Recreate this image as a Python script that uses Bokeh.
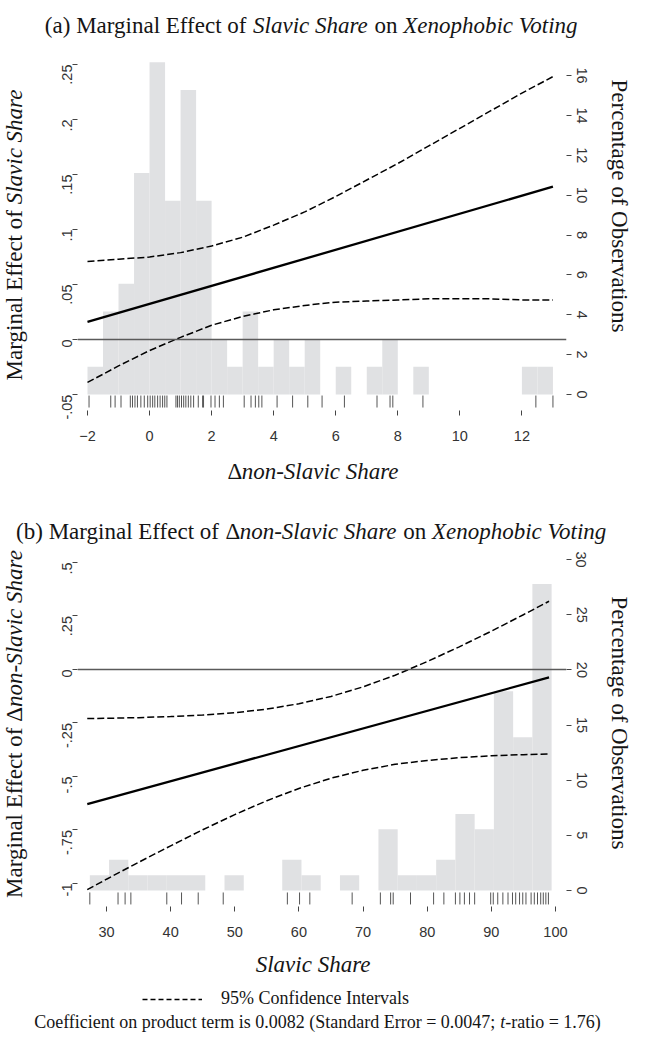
import math
from bokeh.plotting import figure
from bokeh.models import (Range1d, LinearAxis, FixedTicker, CustomJSTickFormatter,
                          Span, Legend, LegendItem, ColumnDataSource, Div)
from bokeh.core.properties import value
from bokeh.layouts import column, row
from bokeh.embed import file_html
from bokeh.resources import INLINE

# ---------------- panel (a): marginal effect of Slavic Share ----------------
a_bin_edges = [-2.0, -1.5, -1.0, -0.5, 0.0, 0.5, 1.0, 1.5, 2.0, 2.5, 3.0, 3.5, 4.0,
               4.5, 5.0, 5.5, 6.0, 6.5, 7.0, 7.5, 8.0, 8.5, 9.0, 9.5, 10.0, 10.5,
               11.0, 11.5, 12.0, 12.5, 13.0]
a_pct = [1.39, 4.17, 5.56, 11.11, 16.67, 9.72, 15.28, 9.72,
         2.78, 1.39, 4.17, 1.39, 2.78, 1.39, 2.78, 0.0,
         1.39, 0.0, 1.39, 2.78, 0.0, 1.39, 0.0, 0.0,
         0.0, 0.0, 0.0, 0.0, 1.39, 1.39]
a_rug = [-1.95, -1.25, -1.11, -0.92, -0.62, -0.55, -0.47, -0.39, -0.28, -0.17,
         -0.06, 0.02, 0.10, 0.17, 0.26, 0.34, 0.42, 0.49, 0.56, 0.85, 0.90,
         0.96, 1.03, 1.10, 1.17, 1.25, 1.33, 1.42, 1.57, 1.71, 1.74, 1.98,
         2.11, 2.25, 2.38, 3.05, 3.27, 3.41, 3.52, 3.62, 4.11, 4.61, 5.10,
         5.56, 6.28, 7.33, 7.75, 7.84, 8.81, 12.45, 13.0]
a_x = [-2, -1, 0, 1, 2, 3, 4, 5, 6, 7, 8, 9, 10, 11, 12, 13]
a_upper = [0.071, 0.073, 0.075, 0.079, 0.085, 0.093, 0.104, 0.116, 0.130,
           0.145, 0.160, 0.176, 0.192, 0.208, 0.224, 0.239]
a_lower = [-0.039, -0.024, -0.010, 0.002, 0.013, 0.021, 0.027, 0.031, 0.034,
           0.035, 0.036, 0.037, 0.037, 0.037, 0.036, 0.036]
a_eff_x = [-2, 13]
a_eff = [0.016, 0.139]
a_xticks = [-2, 0, 2, 4, 6, 8, 10, 12]
a_yticks = [-0.05, 0.0, 0.05, 0.10, 0.15, 0.20, 0.25]
a_pticks = [0, 2, 4, 6, 8, 10, 12, 14, 16]

# ---------------- panel (b): marginal effect of delta non-Slavic Share ----------------
b_bin_edges = [27.4, 30.4, 33.4, 36.4, 39.4, 42.4, 45.4, 48.4, 51.4, 54.4, 57.4,
               60.4, 63.4, 66.4, 69.4, 72.4, 75.4, 78.4, 81.4, 84.4, 87.4, 90.4,
               93.4, 96.4, 99.4]
b_pct = [1.39, 2.78, 1.39, 1.39, 1.39, 1.39, 0.0, 1.39, 0.0, 0.0, 2.78, 1.39,
         0.0, 1.39, 0.0, 5.56, 1.39, 1.39, 2.78, 6.94, 5.56, 18.06, 13.89, 27.78]
b_rug = [27.4, 31.8, 32.9, 33.8, 39.4, 41.7, 44.3, 48.2, 58.2, 60.1, 61.7, 68.3,
         72.7, 74.3, 74.7, 77.4, 81.0, 82.6, 84.4, 85.1, 85.8, 86.6, 87.4, 89.9,
         90.3, 91.0, 91.8, 92.6, 93.3, 93.8, 94.4, 94.9, 95.4, 96.2, 96.7, 97.2,
         97.7, 98.1, 98.5, 98.9]
b_x = [27, 30, 35, 40, 45, 50, 55, 60, 65, 70, 75, 80, 85, 90, 95, 99]
b_upper = [-0.229, -0.228, -0.225, -0.220, -0.213, -0.202, -0.185, -0.160,
           -0.126, -0.081, -0.027, 0.037, 0.106, 0.179, 0.256, 0.319]
b_lower = [-1.029, -0.980, -0.901, -0.824, -0.749, -0.678, -0.613, -0.556,
           -0.508, -0.471, -0.443, -0.425, -0.412, -0.403, -0.398, -0.395]
b_eff_x = [27, 99]
b_eff = [-0.629, -0.037]
b_xticks = [30, 40, 50, 60, 70, 80, 90, 100]
b_yticks = [-1.0, -0.75, -0.5, -0.25, 0.0, 0.25, 0.5]
b_pticks = [0, 5, 10, 15, 20, 25, 30]

SERIF = "Liberation Serif"
SANS = "Liberation Sans"
BAR = "#e0e1e3"
TXT = "#151515"
PAGE_W = 634

# Times / Liberation Serif advance widths (1/1000 em)
ROMAN = {' ': 250, '(': 333, ')': 333, '-': 333, '.': 250, ';': 278, '=': 564,
         '%': 833, 'Δ': 612, 'a': 444, 'b': 500, 'c': 444, 'd': 500, 'e': 444,
         'f': 333, 'g': 500, 'h': 500, 'i': 278, 'l': 278, 'm': 778, 'n': 500,
         'o': 500, 'p': 500, 'r': 333, 's': 389, 't': 278, 'u': 500, 'v': 500,
         'C': 667, 'E': 611, 'I': 333, 'M': 889, 'O': 722, 'P': 556, 'S': 556}
ITALIC = {' ': 250, '-': 333, 'a': 500, 'b': 500, 'c': 444, 'e': 444, 'g': 500,
          'h': 500, 'i': 278, 'l': 278, 'n': 500, 'o': 500, 'p': 500, 'r': 389,
          't': 278, 'v': 444, 'S': 500, 'V': 611, 'X': 611}


def tw(s, italic, size):
    tab = ITALIC if italic else ROMAN
    return sum(tab.get(ch, 500) for ch in s) / 1000.0 * size


def text_fig(w, h):
    p = figure(width=w, height=h, x_range=Range1d(0, w), y_range=Range1d(0, h),
               min_border=0, x_axis_type=None, y_axis_type=None,
               toolbar_location=None, output_backend="svg",
               background_fill_color="white", border_fill_color="white")
    p.outline_line_color = None
    p.grid.visible = False
    return p


def rich(p, parts, cx, base, size):
    """Horizontal mixed roman/italic text; cx = centre x, base = baseline (y down)."""
    H = p.height
    pos = cx - sum(tw(t, it, size) for t, it in parts) / 2
    for t, it in parts:
        lead = tw(t[:len(t) - len(t.lstrip())], it, size)
        p.text(x=[pos + lead], y=[H - base], text=[t.strip()],
               text_font=value(SERIF), text_font_size=value(f"{size}px"),
               text_font_style="italic" if it else "normal", text_color=TXT,
               text_align="left", text_baseline="alphabetic")
        pos += tw(t, it, size)


def vtitle(w, h, html, cx, cy, deg):
    """Rotated axis title laid out by the browser (mixed roman / italic)."""
    inner = (f"position:absolute;left:{cx}px;top:{cy}px;"
             f"transform:translate(-50%,-50%) rotate({deg}deg);white-space:nowrap;"
             f"font-family:'{SERIF}';font-size:23px;line-height:1;color:{TXT};")
    return Div(text=(f'<div style="position:relative;width:{w}px;height:{h}px;'
                     f'overflow:visible;"><div style="{inner}">{html}</div></div>'),
               width=w, height=h, margin=0)


fmt = CustomJSTickFormatter(code="""
let s = tick.toFixed(2);
s = s.replace(/0+$/, '').replace(/\\.$/, '');
s = s.replace(/^(-?)0\\./, '$1.');
return s;
""")


def style_axis(ax, standoff):
    ax.axis_line_color = None
    ax.major_tick_in = 0
    ax.major_tick_out = 5
    ax.major_tick_line_color = "#444444"
    ax.major_tick_line_width = 1
    ax.minor_tick_line_color = None
    ax.major_label_text_font = SANS
    ax.major_label_text_font_size = "14.5px"
    ax.major_label_text_color = "#333333"
    ax.major_label_standoff = standoff


def panel(xr, yr, pr, fh, edges, pct, rug, rug_y, cx, up, lo, ex, ey, xt, yt, pt):
    p = figure(frame_width=489, frame_height=fh, min_border_left=37,
               min_border_right=34, min_border_top=8, min_border_bottom=37,
               x_range=Range1d(*xr), y_range=Range1d(*yr),
               output_backend="svg", toolbar_location=None,
               background_fill_color="white", border_fill_color="white")
    p.outline_line_color = None
    p.grid.visible = False
    p.extra_y_ranges = {"pct": Range1d(*pr)}
    p.quad(left=edges[:-1], right=edges[1:], bottom=0, top=pct,
           y_range_name="pct", fill_color=BAR, line_color=None)
    p.add_layout(Span(location=0, dimension="width", line_color="#5a5a5a",
                      line_width=1.6))
    rs = ColumnDataSource(dict(x=rug))
    p.segment(x0="x", x1="x", y0=rug_y[0], y1=rug_y[1], source=rs,
              line_color="#555555", line_width=1)
    p.line(cx, up, line_color="black", line_width=1.5, line_dash="7 3")
    p.line(cx, lo, line_color="black", line_width=1.5, line_dash="7 3")
    p.line(ex, ey, line_color="black", line_width=2.3)

    p.xaxis.ticker = FixedTicker(ticks=xt)
    style_axis(p.xaxis[0], 15)
    p.yaxis.ticker = FixedTicker(ticks=yt)
    p.yaxis.formatter = fmt
    style_axis(p.yaxis[0], 5)
    p.yaxis.major_label_orientation = math.pi / 2
    ra = LinearAxis(y_range_name="pct", ticker=FixedTicker(ticks=pt))
    style_axis(ra, 5)
    ra.major_label_orientation = "vertical"
    p.add_layout(ra, "right")
    return p


# ---------------- panel (a) block: page y 8 .. 500 ----------------
ta = text_fig(PAGE_W, 46)
rich(ta, [("(a) Marginal Effect of ", False), ("Slavic Share", True),
          (" on ", False), ("Xenophobic Voting", True)], 312, 25, 23)

pa = panel((-2.322, 13.437), (-0.0645, 0.2591), (-0.803, 17.06), 356,
           a_bin_edges, a_pct, a_rug, (-0.0509, -0.0618), a_x, a_upper, a_lower,
           a_eff_x, a_eff, a_xticks, a_yticks, a_pticks)
ha = 8 + 356 + 37
la = vtitle(40, ha, "Marginal Effect of <i>Slavic Share</i>", 14, 189, -90)
ra_ = vtitle(34, ha, "Percentage of Observations", 19, 160, 90)
xa = text_fig(PAGE_W, 45)
rich(xa, [("Δ", False), ("non-Slavic Share", True)], 313, 24, 23)

# ---------------- panel (b) block: page y 500 .. 1045 ----------------
tb = text_fig(PAGE_W, 55)
rich(tb, [("(b) Marginal Effect of ", False), ("Δ", False),
          ("non-Slavic Share", True), (" on ", False),
          ("Xenophobic Voting", True)], 312, 39, 23)

pb = panel((25.479, 101.72), (-1.1075, 0.5327), (-1.45, 30.37), 351,
           b_bin_edges, b_pct, b_rug, (-1.042, -1.098), b_x, b_upper, b_lower,
           b_eff_x, b_eff, b_xticks, b_yticks, b_pticks)
hb = 8 + 351 + 37
lb = vtitle(40, hb, "Marginal Effect of Δ<i>non-Slavic Share</i>", 14, 177, -90)
rb_ = vtitle(34, hb, "Percentage of Observations", 19, 176, 90)

xb = text_fig(PAGE_W, 94)
rich(xb, [("Slavic Share", True)], 313, 21, 23)
rich(xb, [("Coefficient on product term is 0.0082 (Standard Error = 0.0047; ", False),
          ("t", True), ("-ratio = 1.76)", False)], 317, 78, 18)
# legend proxy: the CI series itself, hidden in this text strip
ci_sample = xb.line(b_x, b_upper, line_color="black", line_width=1.5,
                    line_dash="5 3", visible=False)
legend = Legend(items=[LegendItem(label="95% Confidence Intervals", renderers=[ci_sample])],
                location=(142, 28), orientation="horizontal",
                border_line_color=None, background_fill_alpha=0,
                glyph_width=60, glyph_height=20, label_standoff=19,
                label_text_font=SERIF, label_text_font_size="18px",
                label_text_color=TXT, padding=0, margin=0, spacing=0)
xb.add_layout(legend)

layout = column(ta, row(la, pa, ra_, spacing=0), xa,
                tb, row(lb, pb, rb_, spacing=0), xb, spacing=0)
open("out.html", "w").write(file_html(layout, INLINE))
